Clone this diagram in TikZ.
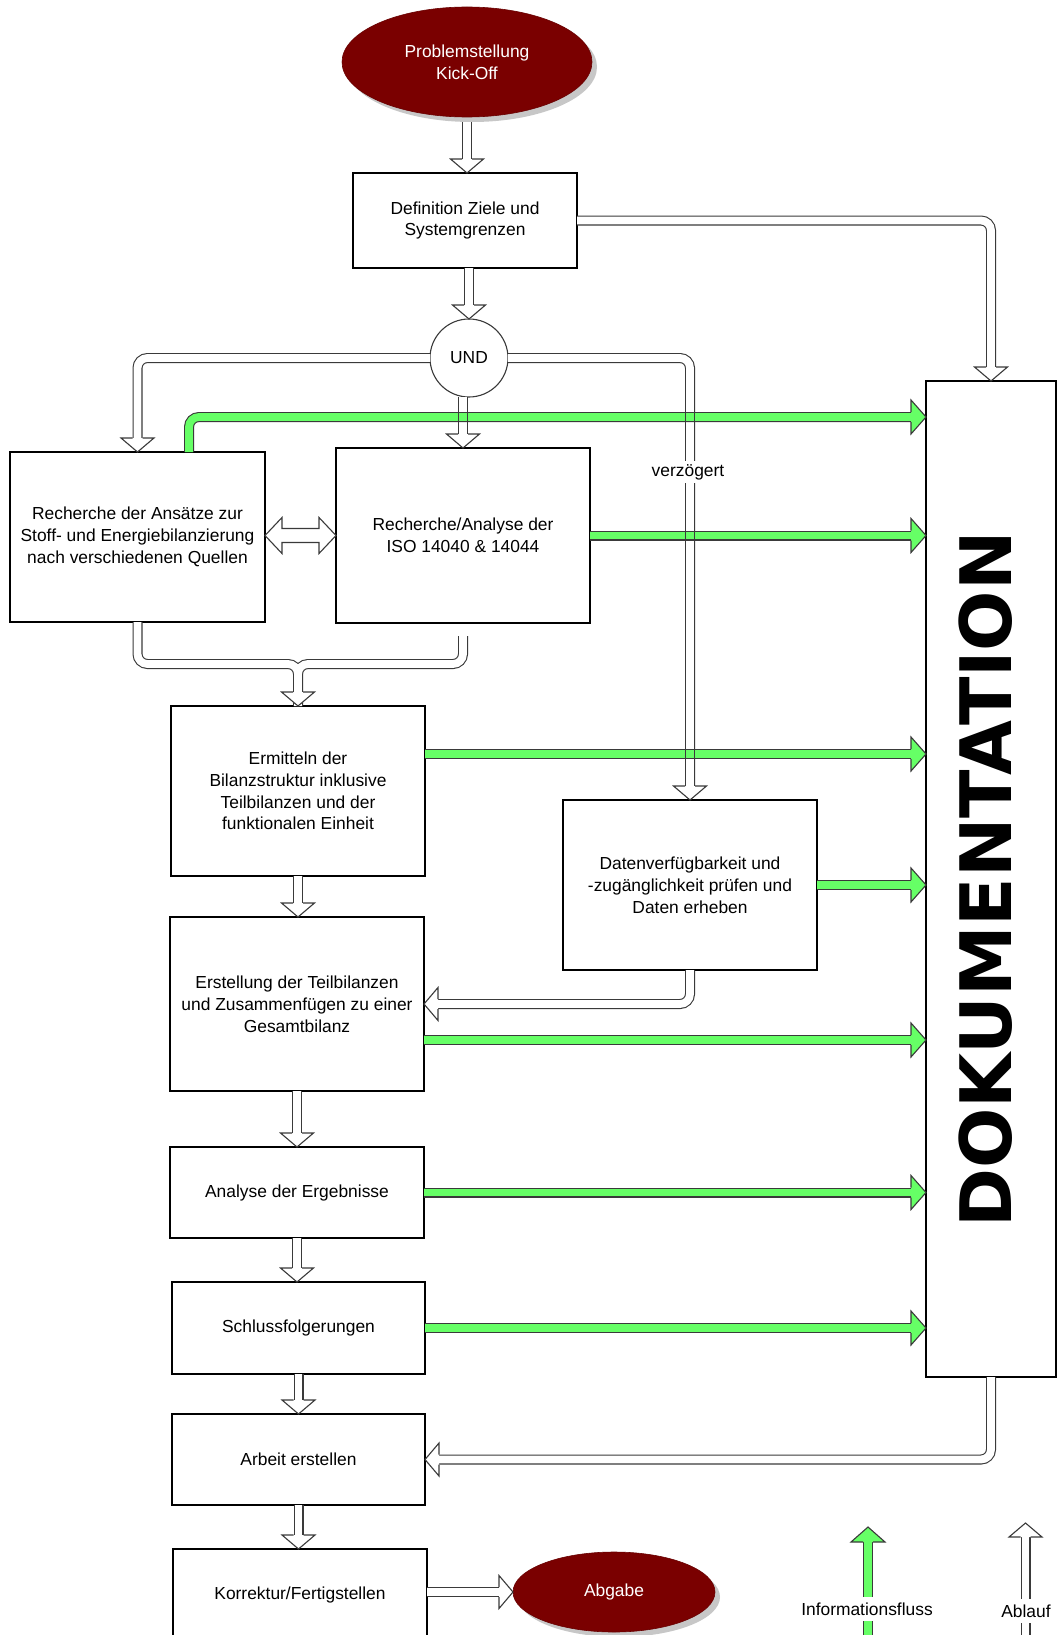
\documentclass[tikz,border=0pt]{standalone}
\usepackage{fontspec}
\setmainfont{Liberation Sans}
\newfontfamily\dokfont{DejaVu Sans}
\usetikzlibrary{shapes.geometric,shadows,calc}

\definecolor{ovalred}{RGB}{122,0,0}
\definecolor{infogreen}{RGB}{102,255,102}
\definecolor{arrowgray}{RGB}{58,58,58}
\newcommand{\txt}{\fontsize{17.4pt}{21.8pt}\selectfont}

\tikzset{
  stepbox/.style={rectangle, draw=black, line width=1.3pt, fill=white, inner sep=0pt,
    outer sep=0pt, align=center, font=\txt},
  oval/.style={ellipse, fill=ovalred, draw=ovalred!85!black, line width=0.6pt, text=white,
    align=center, font=\txt, inner sep=0pt, outer sep=0pt,
    drop shadow={shadow xshift=5pt, shadow yshift=-5pt, fill=black!22, opacity=1}},
  flow/.style={draw=arrowgray, line width=1.1pt, double=white, double distance=7.8pt,
    rounded corners=10pt, shorten >=13pt},
  infoflow/.style={draw=arrowgray, line width=1.1pt, double=infogreen, double distance=7.8pt,
    rounded corners=10pt, shorten >=14pt},
  edgeline/.style={draw=arrowgray, line width=1.1pt},
  pics/flowhead/.style={code={
    \filldraw[edgeline, fill=white, line join=miter]
      (-14,-5) -- (-14,-16.5) -- (0,0) -- (-14,16.5) -- (-14,5);}},
  pics/infohead/.style={code={
    \filldraw[edgeline, fill=infogreen, line join=miter]
      (-15,-5) -- (-15,-17) -- (0,0) -- (-15,17) -- (-15,5);}},
  lbl/.style={font=\txt, fill=white, inner xsep=2pt, inner ysep=3pt},
}

\begin{document}
\begin{tikzpicture}[x=1pt,y=-1pt]
\useasboundingbox (0,0) rectangle (1059,1635);
\clip (0,0) rectangle (1059,1635);

% ---------- nodes ----------
\node[oval, minimum width=250pt, minimum height=110pt] (prob) at (467,62) {Problemstellung\\Kick-Off};
\node[stepbox, minimum width=224pt, minimum height=95pt] (def) at (465,220.5) {Definition Ziele und\\Systemgrenzen};
\node[circle, draw=arrowgray, line width=1.1pt, fill=white, minimum size=78pt, inner sep=0pt,
      outer sep=0pt, font=\txt] (und) at (469,358) {UND};
\node[stepbox, minimum width=255pt, minimum height=170pt] (rech) at (137.5,537)
  {Recherche der Ansätze zur\\Stoff- und Energiebilanzierung\\nach verschiedenen Quellen};
\node[stepbox, minimum width=254pt, minimum height=175pt] (iso) at (463,535.5)
  {Recherche/Analyse der\\ISO 14040 \& 14044};
\node[stepbox, minimum width=254pt, minimum height=170pt] (erm) at (298,791)
  {Ermitteln der\\Bilanzstruktur inklusive\\Teilbilanzen und der\\funktionalen Einheit};
\node[stepbox, minimum width=254pt, minimum height=170pt] (daten) at (690,885)
  {Datenverfügbarkeit und\\-zugänglichkeit prüfen und\\Daten erheben};
\node[stepbox, minimum width=254pt, minimum height=174pt] (erst) at (297,1004)
  {Erstellung der Teilbilanzen\\und Zusammenfügen zu einer\\Gesamtbilanz};
\node[stepbox, minimum width=254pt, minimum height=91pt] (ana) at (297,1192.5) {Analyse der Ergebnisse};
\node[stepbox, minimum width=253pt, minimum height=92pt] (schl) at (298.5,1328) {Schlussfolgerungen};
\node[stepbox, minimum width=253pt, minimum height=91pt] (arb) at (298.5,1459.5) {Arbeit erstellen};
\node[stepbox, minimum width=254pt, minimum height=91pt] (korr) at (300,1594.5) {Korrektur/Fertigstellen};
\node[oval, minimum width=202pt, minimum height=80pt] (abg) at (614,1592) {Abgabe};
\node[stepbox, minimum width=130pt, minimum height=996pt] (dok) at (991,879) {};
\node[font={\dokfont\bfseries\fontsize{71pt}{72pt}\selectfont}, rotate=90, inner sep=0pt]
  (doktxt) at (986,879.5) {DOKUMENTATION};

% ---------- process arrows that cross the information flow ----------
\coordinate (c1) at (iso.north |- und.south);
\coordinate (c2) at (daten.north |- und.south);
\draw[flow] (c1) -- (iso.north);
\pic[rotate=-90] at (iso.north) {flowhead};
\draw[flow] (und.east) -| (daten.north);
\pic[rotate=-90] at (daten.north) {flowhead};

% ---------- information flow into the documentation ----------
\coordinate (e1) at ([yshift=37pt]erm.east);
\coordinate (e2) at ([yshift=-36pt]erst.east);
\coordinate (g1) at ([yshift=-36pt]dok.north west);
\draw[infoflow] ([xshift=51.5pt]rech.north) |- (g1);
\pic at (g1) {infohead};
\draw[infoflow] (iso.east) -- (iso.east -| dok.west);
\pic at (iso.east -| dok.west) {infohead};
\draw[infoflow] (e1) -- (e1 -| dok.west);
\pic at (e1 -| dok.west) {infohead};
\draw[infoflow] (daten.east) -- (daten.east -| dok.west);
\pic at (daten.east -| dok.west) {infohead};
\draw[infoflow] (e2) -- (e2 -| dok.west);
\pic at (e2 -| dok.west) {infohead};
\draw[infoflow] (ana.east) -- (ana.east -| dok.west);
\pic at (ana.east -| dok.west) {infohead};
\draw[infoflow] (schl.east) -- (schl.east -| dok.west);
\pic at (schl.east -| dok.west) {infohead};

% outlines of the vertical shafts stay visible across the green bands
\foreach \dx in {-4.45,4.45} {
  \draw[edgeline] ([xshift=\dx]c1) -- ([xshift=\dx, yshift=14pt]iso.north);
  \draw[edgeline] ([xshift=\dx]c2) -- ([xshift=\dx, yshift=14pt]daten.north);
}

% ---------- process arrows ----------
\draw[flow] ([yshift=-5pt]prob.south) -- (prob.south |- def.north);
\pic[rotate=-90] at (prob.south |- def.north) {flowhead};
\draw[flow] (und.north |- def.south) -- (und.north);
\pic[rotate=-90] at (und.north) {flowhead};
\draw[flow] (und.west) -| (rech.north);
\pic[rotate=-90] at (rech.north) {flowhead};
\draw[flow] (def.east) -| (dok.north);
\pic[rotate=-90] at (dok.north) {flowhead};

% exchange between the two research boxes
\coordinate (dl) at (rech.east |- iso.west);
\filldraw[edgeline, fill=white, line join=miter]
  (dl) -- ++(17,-18) -- ++(0,11) -- ($(iso.west)+(-17,-7)$) -- ++(0,-11) -- (iso.west)
  -- ++(-17,18) -- ++(0,-11) -- ($(dl)+(17,7)$) -- ++(0,11) -- cycle;

% both research boxes merge into the balance structure
\draw[flow, shorten <=13pt] (erm.north) -- ++(0,-42) -| (rech.south)
  (iso.south) -- ++(0,41) -| (erm.north);
\pic[rotate=-90] at (erm.north) {flowhead};

\draw[flow] (erm.south) -- (erm.south |- erst.north);
\pic[rotate=-90] at (erm.south |- erst.north) {flowhead};
\draw[flow] (daten.south) |- (erst.east);
\pic[rotate=180] at (erst.east) {flowhead};
\draw[flow] (erst.south) -- (erst.south |- ana.north);
\pic[rotate=-90] at (erst.south |- ana.north) {flowhead};
\draw[flow] (ana.south) -- (ana.south |- schl.north);
\pic[rotate=-90] at (ana.south |- schl.north) {flowhead};
\draw[flow] (schl.south) -- (schl.south |- arb.north);
\pic[rotate=-90] at (schl.south |- arb.north) {flowhead};
\draw[flow] (arb.south) -- (arb.south |- korr.north);
\pic[rotate=-90] at (arb.south |- korr.north) {flowhead};
\draw[flow] (dok.south) |- (arb.east);
\pic[rotate=180] at (arb.east) {flowhead};
\draw[flow] (korr.east |- abg.west) -- (abg.west);
\pic at (abg.west) {flowhead};

\node[lbl] (vz) at (688,472) {verzögert};

% ---------- legend ----------
\coordinate (lg0) at (868,1645);
\coordinate (lg1) at (868,1527);
\draw[infoflow] (lg0) -- (lg1);
\pic[rotate=90] at (lg1) {infohead};
\node[lbl, inner ysep=6pt] (lgtxt) at (867,1609) {Informationsfluss};

\coordinate (la0) at (1025.5,1645);
\coordinate (la1) at (1025.5,1523);
\draw[flow] (la0) -- (la1);
\pic[rotate=90] at (la1) {flowhead};
\node[lbl, inner ysep=6pt] (latxt) at (1026,1611) {Ablauf};
\end{tikzpicture}
\end{document}
